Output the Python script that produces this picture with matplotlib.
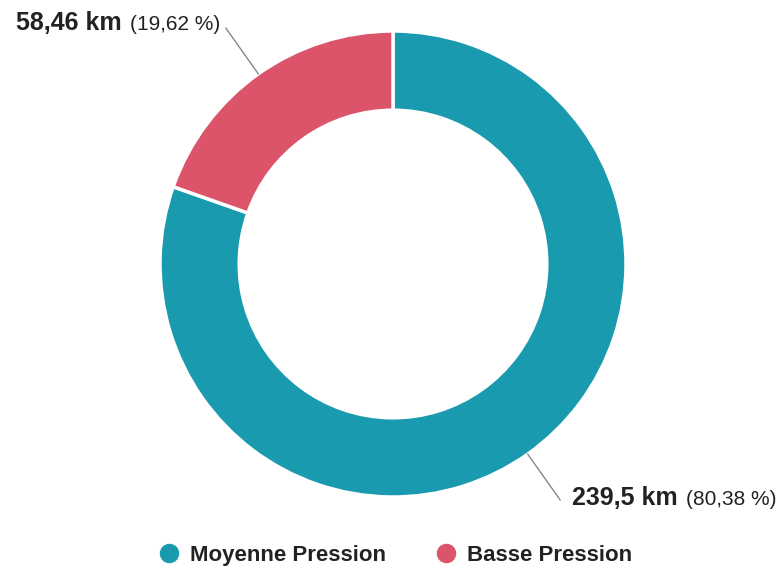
import numpy as np
import matplotlib
matplotlib.use('Agg')
import matplotlib.pyplot as plt
from matplotlib.lines import Line2D

categories = ['Moyenne Pression', 'Basse Pression']
longueurs_km = [239.5, 58.46]
valeur_labels = ['239,5 km', '58,46 km']
pourcent_labels = ['(80,38 %)', '(19,62 %)']
farben = ['#1a9aae', '#db5469']

plt.rcParams['font.family'] = ['Liberation Sans', 'DejaVu Sans']
textfarbe = '#222222'

W, H = 781, 571
fig = plt.figure(figsize=(W / 100, H / 100), dpi=100)
ax = fig.add_axes([0, 0, 1, 1])
ax.set_xlim(0, W)
ax.set_ylim(0, H)
ax.set_aspect('equal')
ax.axis('off')

# Mittelpunkt und Radius in Pixeln
cx, cy = 393, H - 264
R = 233
breite = 0.34

wedges, _ = ax.pie(longueurs_km, colors=farben, startangle=90, counterclock=False,
                   center=(cx, cy), radius=R,
                   wedgeprops=dict(width=R * breite, edgecolor='white', linewidth=2.5))

ax.set_xlim(0, W)
ax.set_ylim(0, H)

fig.canvas.draw()
renderer = fig.canvas.get_renderer()

for w, val, pct in zip(wedges, valeur_labels, pourcent_labels):
    theta = np.deg2rad((w.theta1 + w.theta2) / 2)
    r_aus = R + 56
    x0, y0 = cx + R * np.cos(theta), cy + R * np.sin(theta)
    x1, y1 = cx + r_aus * np.cos(theta), cy + r_aus * np.sin(theta)
    ax.plot([x0, x1], [y0, y1], color='#7f8a90', lw=1)
    if np.cos(theta) < 0:
        # Beschriftung links: rechtsbündig
        t2 = ax.text(x1 - 6, y1 - 2, pct, ha='right', va='baseline',
                     fontsize=15, color=textfarbe)
        fig.canvas.draw()
        bb = t2.get_window_extent(renderer)
        ax.text(bb.x0 - 8, y1 - 2, val, ha='right', va='baseline',
                fontsize=18, fontweight='bold', color=textfarbe)
    else:
        t1 = ax.text(x1 + 12, y1 - 5, val, ha='left', va='baseline',
                     fontsize=18, fontweight='bold', color=textfarbe)
        fig.canvas.draw()
        bb = t1.get_window_extent(renderer)
        ax.text(bb.x1 + 8, y1 - 5, pct, ha='left', va='baseline',
                fontsize=15, color=textfarbe)

handles = [Line2D([], [], marker='o', ls='none', markersize=13,
                  markerfacecolor=c, markeredgecolor=c) for c in farben]
leg = ax.legend(handles, categories, loc='center', bbox_to_anchor=(0.507, 0.028),
                ncol=2, frameon=False, handlelength=0.8, handletextpad=0.55,
                columnspacing=2.3, prop={'weight': 'bold', 'size': 16})
for t in leg.get_texts():
    t.set_color(textfarbe)

fig.savefig('out.png', dpi=100)
